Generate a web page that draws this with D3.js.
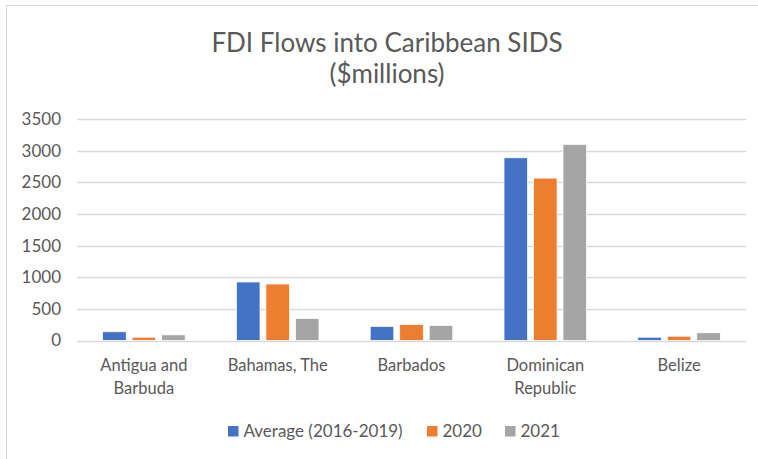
<!DOCTYPE html>
<html>
<head>
<meta charset="utf-8">
<script src="https://cdn.jsdelivr.net/npm/d3@7"></script>
<style>
  html, body { margin: 0; padding: 0; background: #ffffff; }
  svg { display: block; }
  text { font-family: Lato, "Open Sans", sans-serif; }
</style>
</head>
<body>
<svg id="chart" width="758" height="459"></svg>
<script>
const categories = [["Antigua and", "Barbuda"], ["Bahamas, The"], ["Barbados"], ["Dominican", "Republic"], ["Belize"]];
const seriesNames = ["Average (2016-2019)", "2020", "2021"];
const avgValues = [138, 925, 222, 2887, 52];
const values2020 = [52, 893, 253, 2566, 68];
const values2021 = [89, 348, 238, 3099, 122];
const colors = ["#4472C4", "#ED7D31", "#A5A5A5"];
const yTicks = [0, 500, 1000, 1500, 2000, 2500, 3000, 3500];
const titleLines = ["FDI Flows into Caribbean SIDS", "($millions)"];

const seriesValues = [avgValues, values2020, values2021];
const svg = d3.select("#chart");

// chart border
svg.append("rect")
  .attr("x", 6.5).attr("y", 5.5)
  .attr("width", 820).attr("height", 520)
  .attr("fill", "none").attr("stroke", "#D9D9D9").attr("stroke-width", 1);

const plot = { left: 77, right: 746, top: 119, bottom: 340.5 };

const x0 = d3.scaleBand()
  .domain(d3.range(categories.length))
  .range([plot.left, plot.right])
  .paddingInner(0.383).paddingOuter(0.1915);

const x1 = d3.scaleBand()
  .domain(d3.range(seriesNames.length))
  .range([0, x0.bandwidth()])
  .paddingInner(0.2).paddingOuter(0);

const y = d3.scaleLinear().domain([0, 3500]).range([plot.bottom, plot.top]);

// gridlines
svg.append("g")
  .selectAll("line")
  .data(yTicks)
  .join("line")
  .attr("x1", plot.left).attr("x2", plot.right)
  .attr("y1", d => Math.round(y(d)) + 0.5).attr("y2", d => Math.round(y(d)) + 0.5)
  .attr("stroke", "#D9D9D9").attr("stroke-width", 1.5);

// y axis labels
const yAxis = d3.axisLeft(y).tickValues(yTicks).tickFormat(d3.format("d")).tickSize(0).tickPadding(0);
const yg = svg.append("g").attr("transform", `translate(${plot.left - 16},0)`).call(yAxis);
yg.select(".domain").remove();
yg.selectAll("text")
  .attr("fill", "#595959")
  .style("font-size", "17px")
  .style("font-family", "Lato, sans-serif");

// bars
const groups = svg.append("g")
  .selectAll("g")
  .data(categories.map((c, i) => i))
  .join("g")
  .attr("transform", i => `translate(${x0(i)},0)`);

groups.selectAll("rect")
  .data(i => seriesValues.map((vals, s) => ({ s, v: vals[i] })))
  .join("rect")
  .attr("x", d => x1(d.s))
  .attr("width", x1.bandwidth())
  .attr("y", d => y(d.v))
  .attr("height", d => y(0) - y(d.v))
  .attr("fill", d => colors[d.s])
  .attr("stroke", "#ffffff")
  .attr("stroke-width", 0.75);

// x labels
const xl = svg.append("g");
categories.forEach((lines, i) => {
  const t = xl.append("text")
    .attr("x", x0(i) + x0.bandwidth() / 2)
    .attr("y", 371)
    .attr("text-anchor", "middle")
    .attr("fill", "#595959")
    .style("font-size", "16.5px");
  lines.forEach((ln, k) => {
    t.append("tspan")
      .attr("x", x0(i) + x0.bandwidth() / 2)
      .attr("dy", k === 0 ? 0 : 23)
      .text(ln);
  });
});

// title
svg.append("g").selectAll("text")
  .data(titleLines)
  .join("text")
  .attr("x", 387)
  .attr("y", (d, i) => 52 + i * 31)
  .attr("text-anchor", "middle")
  .attr("fill", "#595959")
  .style("font-size", "26px")
  .text(d => d);

// legend
const legendItems = [
  { x: 228, name: seriesNames[0], c: colors[0] },
  { x: 427, name: seriesNames[1], c: colors[1] },
  { x: 505, name: seriesNames[2], c: colors[2] }
];
const lg = svg.append("g");
legendItems.forEach(it => {
  lg.append("rect").attr("x", it.x).attr("y", 426).attr("width", 10.5).attr("height", 10.5).attr("fill", it.c);
  lg.append("text").attr("x", it.x + 15.5).attr("y", 437)
    .attr("fill", "#595959").style("font-size", "17px").text(it.name);
});
</script>
</body>
</html>
